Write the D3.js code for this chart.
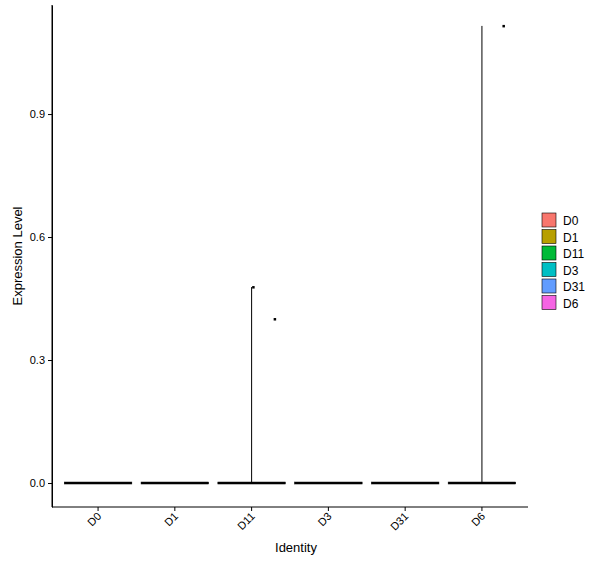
<!DOCTYPE html><html><head><script src="https://d3js.org/d3.v7.min.js"></script>
<style>body{margin:0;background:#fff}text{font-family:"Liberation Sans",Arial,sans-serif}</style></head><body>
<script>
const categories=["D0","D1","D11","D3","D31","D6"];
const colors=["#F8766D","#B79F00","#00BA38","#00BFC4","#619CFF","#F564E3"];
const maxValues=[0,0,0.478,0,0,1.115];
const pointValues=[[],[],[0.478,0.40],[],[],[1.115]];
const pointOffsets=[[],[],[0.02,0.3],[],[],[0.28]];
const yTicks=[0,0.3,0.6,0.9];
const W=600,H=568;
const svg=d3.select("body").append("svg").attr("width",W).attr("height",H);
const x=d3.scaleBand().domain(categories).range([52,528]).paddingInner(0).paddingOuter(0.1);
const y=d3.scaleLinear().domain([-0.0585,1.166]).range([507,5]);
const bw=x.bandwidth(),vw=bw*0.88;
const g=svg.append("g");
categories.forEach((c,i)=>{
  const cx=x(c)+bw/2;
  g.append("rect").attr("x",cx-vw/2).attr("y",y(0)-1).attr("width",vw).attr("height",2).attr("fill","#000").attr("stroke","#000").attr("stroke-width",0.5);
  if(maxValues[i]>0) g.append("line").attr("x1",cx).attr("x2",cx).attr("y1",y(0)).attr("y2",y(maxValues[i])).attr("stroke","#000").attr("stroke-width",1);
  pointValues[i].forEach((v,j)=>g.append("rect").attr("x",cx+pointOffsets[i][j]*bw-1).attr("y",y(v)-1).attr("width",2.5).attr("height",2.5).attr("fill","#000"));
});
svg.append("g").attr("transform","translate(52,0)").call(d3.axisLeft(y).tickValues(yTicks).tickFormat(d3.format(".1f")).tickSize(4).tickSizeOuter(0))
 .call(a=>{a.selectAll("text").attr("font-size",11).attr("fill","#000");a.selectAll("line,path").attr("stroke","#000");});
const xa=svg.append("g").attr("transform","translate(0,507)").call(d3.axisBottom(x).tickSize(4).tickSizeOuter(0));
xa.select(".domain").attr("d","M52,0H528");
xa.selectAll("line,path").attr("stroke","#000");
xa.selectAll("text").attr("font-size",11).attr("fill","#000").attr("text-anchor","end").attr("dy",0).attr("y",0).attr("transform","translate(4,10) rotate(-45)");
svg.append("path").attr("d","M52,5V507").attr("stroke","#000");
svg.append("text").attr("x",296).attr("y",552).attr("text-anchor","middle").attr("font-size",13).text("Identity");
svg.append("text").attr("transform","translate(22,256) rotate(-90)").attr("text-anchor","middle").attr("font-size",13).text("Expression Level");
const lg=svg.append("g");
categories.forEach((c,i)=>{
  lg.append("rect").attr("x",542).attr("y",213+i*16.5).attr("width",14).attr("height",14).attr("fill",colors[i]).attr("stroke","#000").attr("stroke-width",0.6);
  lg.append("text").attr("x",563).attr("y",225+i*16.5).attr("font-size",12).text(c);
});
</script></body></html>
